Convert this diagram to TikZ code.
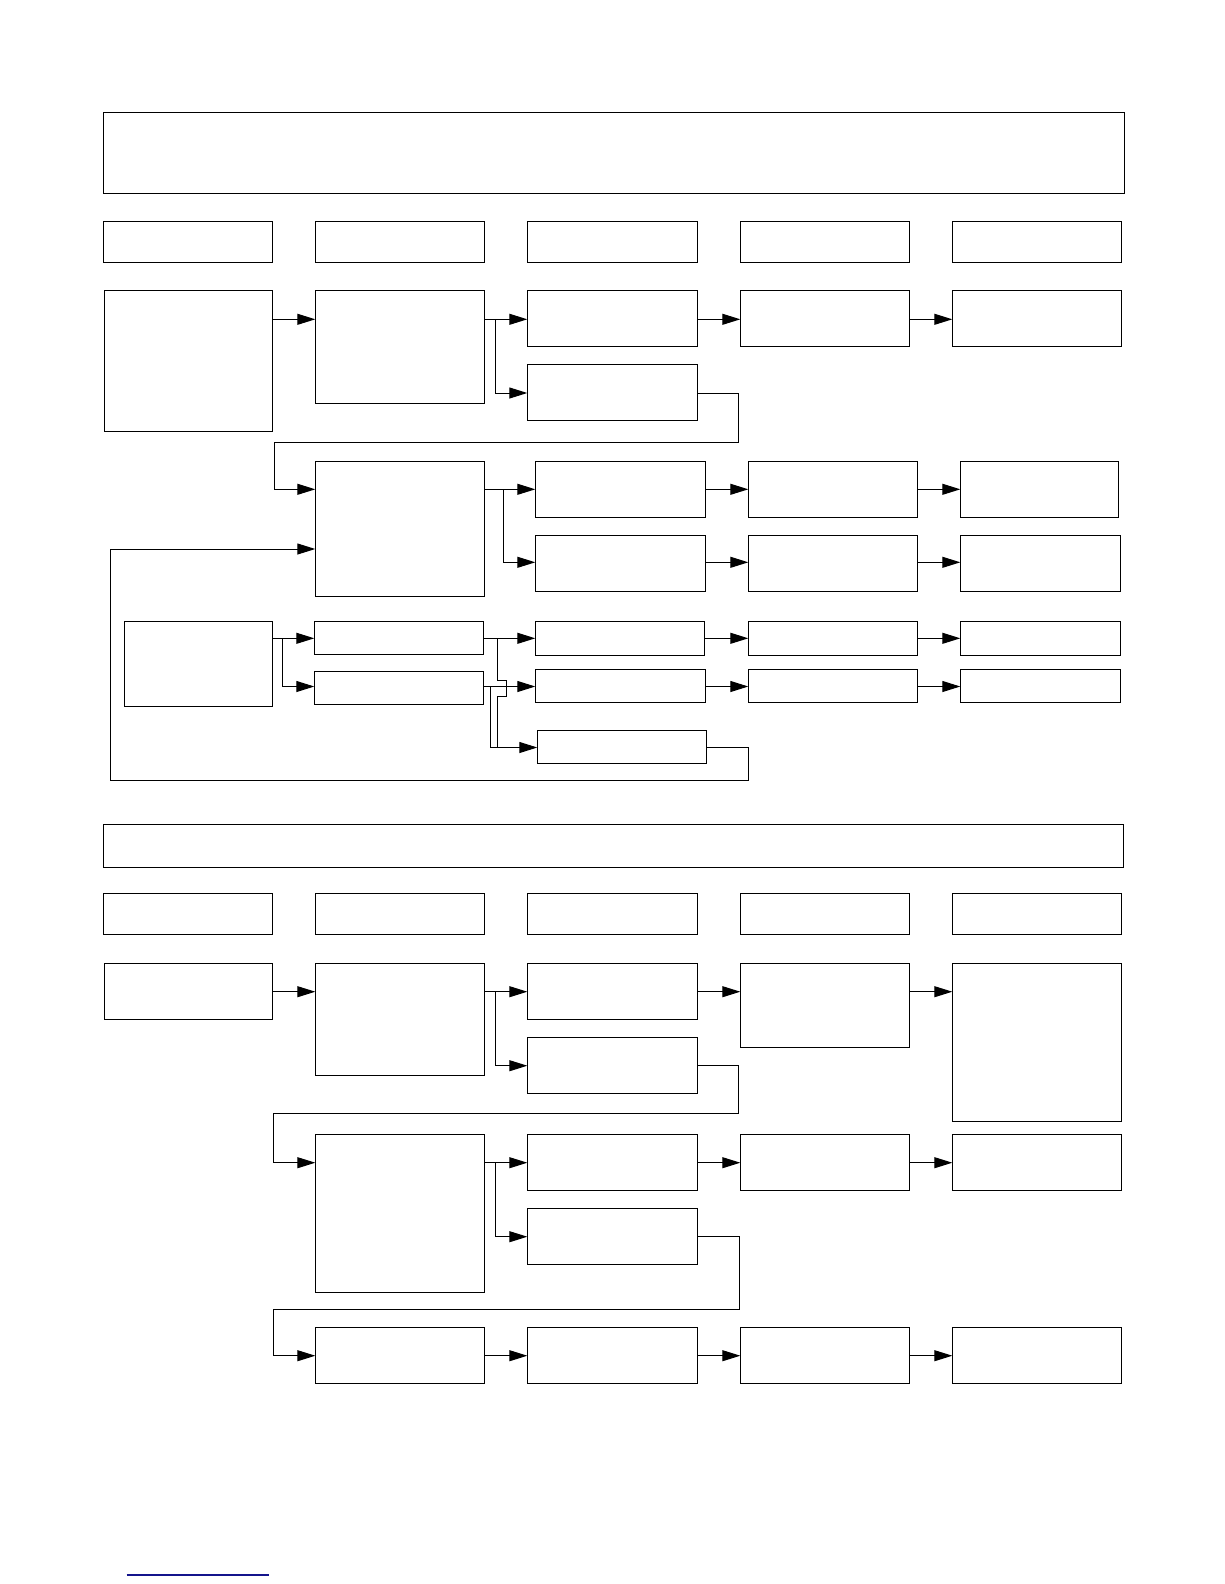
\documentclass[tikz,border=0pt]{standalone}
\usetikzlibrary{arrows.meta}
\definecolor{navyline}{RGB}{20,20,140}
\tikzset{
  box/.style={draw, line width=1.0pt, inner sep=0pt, outer sep=0pt},
  arr/.style={-{Triangle[length=18pt,width=11pt]}, line width=1.0pt},
  ln/.style={line width=1.0pt}
}
\newcommand{\bx}[5]{\node[box,minimum width={(#4-#2)*1pt},minimum height={(#5-#3)*1pt}] (#1) at ({(#2+#4)/2},{(#3+#5)/2}) {};}
\begin{document}
\begin{tikzpicture}[x=1pt,y=-1pt]
\useasboundingbox (0,0) rectangle (1224,1584);
% ---------- section 1 ----------
\bx{title1}{103}{113}{1124}{193}
\bx{ha1}{103.3}{221.3}{272.7}{262.3}
\bx{ha2}{315.3}{221.3}{484.7}{262.3}
\bx{ha3}{527.3}{221.3}{697.7}{262.3}
\bx{ha4}{740.3}{221.3}{909.7}{262.3}
\bx{ha5}{952.3}{221.3}{1121.7}{262.3}
\bx{A}{104.3}{290.3}{272.7}{431.3}
\bx{B}{315.3}{290.3}{484.7}{403}
\bx{C1}{527.3}{290.3}{697.7}{346.3}
\bx{C2}{527.3}{364.3}{697.7}{420.3}
\bx{D1}{740.3}{290.3}{909.7}{346.3}
\bx{E1}{952.3}{290.3}{1121.7}{346.3}
\bx{F}{315.3}{461.3}{484.7}{596.3}
\bx{I1}{535.3}{461.3}{705.7}{517.3}
\bx{I2}{535.3}{535.3}{705.7}{591.3}
\bx{J1}{748.3}{461.3}{917.7}{517.3}
\bx{J2}{748.3}{535.3}{917.7}{591.3}
\bx{K1}{960.3}{461.3}{1118.7}{517.3}
\bx{K2}{960.3}{535.3}{1120.7}{591.3}
\bx{G}{124.3}{621.3}{272.7}{706.3}
\bx{H1}{314.3}{621.3}{483.7}{654.3}
\bx{H2}{314.3}{671.3}{483.7}{704.3}
\bx{M1}{535.3}{621.3}{704.3}{655.3}
\bx{M2}{535.3}{669.3}{705.7}{702.3}
\bx{L}{537.3}{730.3}{706.7}{763.3}
\bx{N1}{748.3}{621.3}{917.7}{655.3}
\bx{N2}{748.3}{669.3}{917.7}{702.3}
\bx{O1}{960.3}{621.3}{1120.7}{655.3}
\bx{O2}{960.3}{669.3}{1120.7}{702.3}
% row levels
\coordinate (ya) at (0,319.3);
\coordinate (yb) at (0,393);
\coordinate (yc) at (0,489.3);
\coordinate (yd) at (0,549);
\coordinate (ye) at (0,562.3);
\coordinate (yf) at (0,638.3);
\coordinate (yg) at (0,686.5);
\coordinate (yh) at (0,747.5);
% connectors
\draw[arr] (A.east |- ya) -- (B.west |- ya);
\draw[arr] (B.east |- ya) -- (C1.west |- ya);
\coordinate (bB) at (495.3,319.3);
\draw[arr] (bB) |- (C2.west |- yb);
\draw[arr] (C1.east |- ya) -- (D1.west |- ya);
\draw[arr] (D1.east |- ya) -- (E1.west |- ya);
\coordinate (la1) at (738.3,442.3);
\coordinate (la2) at (274.3,442.3);
\draw[arr] (C2.east |- yb) -| (la1) -- (la2) |- (F.west |- yc);
\draw[arr] (F.east |- yc) -- (I1.west |- yc);
\coordinate (bF) at (503.3,489.3);
\draw[arr] (bF) |- (I2.west |- ye);
\draw[arr] (I1.east |- yc) -- (J1.west |- yc);
\draw[arr] (J1.east |- yc) -- (K1.west |- yc);
\draw[arr] (I2.east |- ye) -- (J2.west |- ye);
\draw[arr] (J2.east |- ye) -- (K2.west |- ye);
\draw[arr] (G.east |- yf) -- (H1.west |- yf);
\coordinate (bG) at (282.7,638.3);
\draw[arr] (bG) |- (H2.west |- yg);
\draw[arr] (H1.east |- yf) -- (M1.west |- yf);
\draw[arr] (H2.east |- yg) -- (M2.west |- yg);
\coordinate (hp0) at (497.3,638.3);
\coordinate (hp1) at (497.3,680);
\coordinate (hp2) at (506,680);
\coordinate (hp3) at (506,696);
\coordinate (hp4) at (497.3,696);
\draw[arr] (hp0) -- (hp1) -- (hp2) -- (hp3) -- (hp4) |- (L.west |- yh);
\coordinate (bH2) at (490.7,686.5);
\coordinate (bH2e) at (497.3,747.5);
\draw[ln] (bH2) |- (bH2e);
\draw[arr] (M1.east |- yf) -- (N1.west |- yf);
\draw[arr] (N1.east |- yf) -- (O1.west |- yf);
\draw[arr] (M2.east |- yg) -- (N2.west |- yg);
\draw[arr] (N2.east |- yg) -- (O2.west |- yg);
\coordinate (lb1) at (748.3,780.3);
\coordinate (lb2) at (110.7,780.3);
\draw[arr] (L.east |- yh) -| (lb1) -- (lb2) |- (F.west |- yd);
% ---------- section 2 ----------
\bx{title2}{103}{824}{1123}{867}
\bx{hb1}{103.3}{893.5}{272.7}{934.5}
\bx{hb2}{315.3}{893.5}{484.7}{934.5}
\bx{hb3}{527.3}{893.5}{697.7}{934.5}
\bx{hb4}{740.3}{893.5}{909.7}{934.5}
\bx{hb5}{952.3}{893.5}{1121.7}{934.5}
\bx{P}{104.3}{963}{272.7}{1019}
\bx{Q}{315.3}{963}{484.7}{1075.4}
\bx{R1}{527.3}{963}{697.7}{1019}
\bx{R2}{527.3}{1037}{697.7}{1093}
\bx{S1}{740.3}{963}{909.7}{1047}
\bx{T1}{952.3}{963}{1121.7}{1121}
\bx{U}{315.3}{1134}{484.7}{1292}
\bx{V1}{527.3}{1134}{697.7}{1190}
\bx{V2}{527.3}{1208}{697.7}{1264}
\bx{W1}{740.3}{1134}{909.7}{1190}
\bx{X1}{952.3}{1134}{1121.7}{1190}
\bx{Y1}{315.3}{1327}{484.7}{1383}
\bx{Y2}{527.3}{1327}{697.7}{1383}
\bx{Y3}{740.3}{1327}{909.7}{1383}
\bx{Y4}{952.3}{1327}{1121.7}{1383}
\coordinate (za) at (0,991.7);
\coordinate (zb) at (0,1065.7);
\coordinate (zc) at (0,1162.7);
\coordinate (zd) at (0,1236.7);
\coordinate (ze) at (0,1355.7);
\draw[arr] (P.east |- za) -- (Q.west |- za);
\draw[arr] (Q.east |- za) -- (R1.west |- za);
\coordinate (bQ) at (495.3,991.7);
\draw[arr] (bQ) |- (R2.west |- zb);
\draw[arr] (R1.east |- za) -- (S1.west |- za);
\draw[arr] (S1.east |- za) -- (T1.west |- za);
\coordinate (lc1) at (738.3,1113);
\coordinate (lc2) at (273,1113);
\draw[arr] (R2.east |- zb) -| (lc1) -- (lc2) |- (U.west |- zc);
\draw[arr] (U.east |- zc) -- (V1.west |- zc);
\coordinate (bU) at (495.3,1162.7);
\draw[arr] (bU) |- (V2.west |- zd);
\draw[arr] (V1.east |- zc) -- (W1.west |- zc);
\draw[arr] (W1.east |- zc) -- (X1.west |- zc);
\coordinate (ld1) at (739,1309);
\coordinate (ld2) at (273,1309);
\draw[arr] (V2.east |- zd) -| (ld1) -- (ld2) |- (Y1.west |- ze);
\draw[arr] (Y1.east |- ze) -- (Y2.west |- ze);
\draw[arr] (Y2.east |- ze) -- (Y3.west |- ze);
\draw[arr] (Y3.east |- ze) -- (Y4.west |- ze);
% footer rule
\coordinate (fa) at (126.7,1575);
\coordinate (fb) at (269,1575);
\draw[navyline, line width=1.3pt] (fa) -- (fb);
\end{tikzpicture}
\end{document}
